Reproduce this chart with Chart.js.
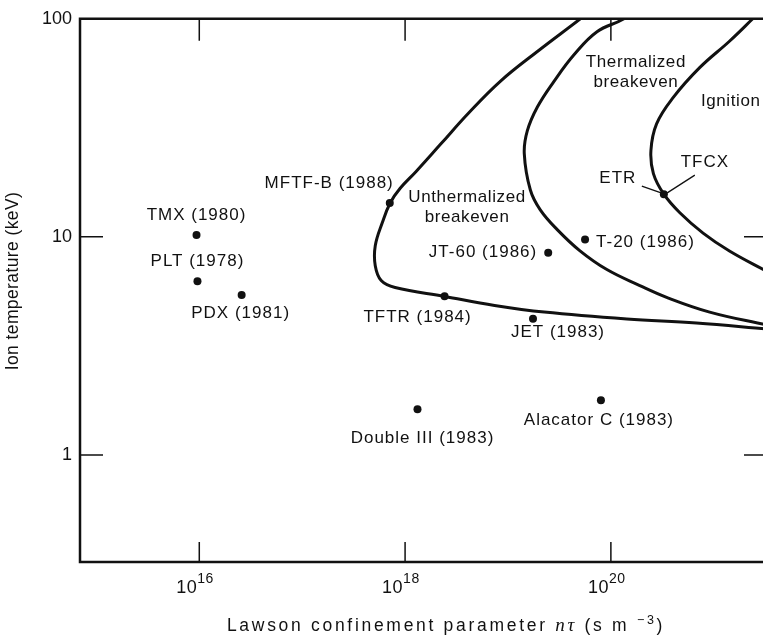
<!DOCTYPE html>
<html>
<head>
<meta charset="utf-8">
<title>Lawson diagram</title>
<script src="https://cdn.jsdelivr.net/npm/chart.js@4.4.1/dist/chart.umd.min.js"></script>
<style>
  html, body { margin: 0; padding: 0; background: #fff; overflow: hidden; }
  #wrap { width: 771px; height: 635px; }
</style>
</head>
<body>
<div id="wrap"><canvas id="lawson-chart" width="771" height="635"></canvas></div>
<script>
/* experiments: n*tau (s m^-3) and ion temperature (keV) */
const deviceNames = ['TMX (1980)', 'PLT (1978)', 'PDX (1981)', 'MFTF-B (1988)', 'TFTR (1984)',
                     'JT-60 (1986)', 'JET (1983)', 'T-20 (1986)', 'Double III (1983)', 'Alacator C (1983)'];
const deviceNt   = [9.4e15, 9.6e15, 2.58e16, 7.1e17, 2.42e18, 2.46e19, 1.75e19, 5.61e19, 1.32e18, 8.0e19];
const deviceTemp = [10.2, 6.26, 5.42, 14.3, 5.34, 8.46, 4.21, 9.72, 1.62, 1.78];

/* ETR and TFCX share one design point on the ignition curve */
const designNames = ['ETR', 'TFCX'];
const designNt = [3.27e20];
const designTemp = [15.7];

/* breakeven and ignition boundaries */
const unthermNt   = [7.48e19, 5.05e19, 1.93e19, 8.47e18, 4.06e18, 2.23e18, 1.28e18, 8.96e17, 7.16e17, 6.00e17,
                     5.13e17, 5.13e17, 5.86e17, 8.00e17, 2.43e18, 7.41e18, 2.25e19, 1.43e20, 6.78e20, 3.29e21];
const unthermTemp = [115.9, 100, 70.8, 51.8, 36.6, 26.7, 19.95, 16.7, 14.3, 11.6,
                     9.10, 7.38, 6.31, 5.86, 5.33, 4.85, 4.52, 4.20, 4.03, 3.78];

const thermNt   = [2.00e20, 1.34e20, 7.33e19, 4.40e19, 2.81e19, 1.93e19, 1.54e19, 1.44e19, 1.65e19, 2.06e19,
                   3.01e19, 5.01e19, 9.14e19, 1.91e20, 3.48e20, 9.12e20, 3.29e21];
const thermTemp = [115.9, 100, 87.3, 68.6, 51.8, 39.4, 30.6, 24.1, 16.4, 13.3,
                   10.8, 8.63, 7.08, 5.98, 5.28, 4.52, 3.94];

const ignitionNt   = [3.29e21, 2.39e21, 1.42e21, 7.29e20, 4.04e20, 2.78e20, 2.45e20, 2.59e20, 3.27e20, 4.68e20,
                      7.87e20, 1.42e21, 3.29e21];
const ignitionTemp = [115.9, 100, 78.9, 59.7, 43.6, 33.0, 24.9, 19.5, 15.7, 12.9,
                      10.4, 8.61, 6.93];

const curveNames = [['Unthermalized', 'breakeven'], ['Thermalized', 'breakeven'], ['Ignition']];

/* axes */
const xMin = 6.93e14, xMax = 3.29e21;
const yMin = 0.3229, yMax = 100;
const xTickExponents = [16, 18, 20];
const yTickValues = [1, 10, 100];

const ink = '#111';
const family = '"Liberation Sans", Arial, Helvetica, sans-serif';

// where each device name sits relative to its dot: [dx, dy, align]
const labelPlacement = {
    'TMX (1980)': [0, -20, 'center'],
    'PLT (1978)': [0, -20, 'center'],
    'PDX (1981)': [-1, 18, 'center'],
    'MFTF-B (1988)': [4, -20, 'right'],
    'TFTR (1984)': [-27, 21, 'center'],
    'JT-60 (1986)': [-11, 0, 'right'],
    'JET (1983)': [25, 14, 'center'],
    'T-20 (1986)': [11, 3, 'left'],
    'Double III (1983)': [5, 29, 'center'],
    'Alacator C (1983)': [-2, 20, 'center']
};

// curve captions, anchored in data space
const curveLabelAnchors = [
    {x: 4.0e18, y: 13.7, align: 'center'},
    {x: 1.75e20, y: 57.0, align: 'center'},
    {x: 7.5e20, y: 42.0, align: 'left'}
];

function toPoints(xs, ys) {
    return xs.map((v, i) => ({x: v, y: ys[i]}));
}

function text(ctx, str, x, y, size, align, spacing) {
    ctx.font = size + 'px ' + family;
    ctx.letterSpacing = (spacing || 0) + 'px';
    ctx.textAlign = align || 'center';
    ctx.textBaseline = 'middle';
    ctx.fillText(str, x, y);
}

/* frame, inward ticks, annotations */
const decorations = {
    id: 'decorations',
    afterDatasetsDraw(chart) {
        const ctx = chart.ctx;
        const xs = chart.scales.x, ys = chart.scales.y;
        const {left, top, right, bottom} = chart.chartArea;

        ctx.save();
        ctx.strokeStyle = ink;
        ctx.fillStyle = ink;

        // frame (open on the right)
        ctx.lineWidth = 2.5;
        ctx.beginPath();
        ctx.moveTo(right + 2, top);
        ctx.lineTo(left, top);
        ctx.lineTo(left, bottom);
        ctx.lineTo(right + 2, bottom);
        ctx.stroke();

        // tick marks pointing inward
        ctx.lineWidth = 1.5;
        ctx.beginPath();
        xTickExponents.forEach(e => {
            const px = xs.getPixelForValue(Math.pow(10, e));
            ctx.moveTo(px, bottom); ctx.lineTo(px, bottom - 20);
            ctx.moveTo(px, top); ctx.lineTo(px, top + 22);
        });
        yTickValues.slice(0, 2).forEach(v => {
            const py = ys.getPixelForValue(v);
            ctx.moveTo(left, py); ctx.lineTo(left + 23, py);
            ctx.moveTo(right, py); ctx.lineTo(right - 23, py);
        });
        ctx.stroke();

        // x tick labels as powers of ten
        xTickExponents.forEach(e => {
            const px = xs.getPixelForValue(Math.pow(10, e));
            ctx.textBaseline = 'alphabetic';
            ctx.textAlign = 'left';
            ctx.letterSpacing = '0.5px';
            ctx.font = '18px ' + family;
            ctx.fillText('10', px - 23, 593);
            const w = ctx.measureText('10').width;
            ctx.font = '14px ' + family;
            ctx.fillText(String(e), px - 23 + w, 583);
        });

        // x axis title
        const parts = [
            {s: 'Lawson confinement parameter ', font: '17.5px ' + family, dy: 0},
            {s: 'nτ', font: 'italic 19px "Liberation Serif", serif', dy: 0},
            {s: ' (s m ', font: '17.5px ' + family, dy: 0},
            {s: '−3', font: '12.5px ' + family, dy: -7},
            {s: ')', font: '17.5px ' + family, dy: 0}
        ];
        ctx.letterSpacing = '2.7px';
        let total = 0;
        parts.forEach(p => { ctx.font = p.font; p.w = ctx.measureText(p.s).width; total += p.w; });
        let cx = 446 - total / 2;
        ctx.textAlign = 'left';
        ctx.textBaseline = 'alphabetic';
        parts.forEach(p => {
            ctx.font = p.font;
            ctx.fillText(p.s, cx, 631 + p.dy);
            cx += p.w;
        });

        // y axis title
        ctx.save();
        ctx.translate(13, 281);
        ctx.rotate(-Math.PI / 2);
        text(ctx, 'Ion temperature (keV)', 0, 0, 17.5, 'center', 0.4);
        ctx.restore();

        // device names
        deviceNames.forEach((name, i) => {
            const px = xs.getPixelForValue(deviceNt[i]);
            const py = ys.getPixelForValue(deviceTemp[i]);
            const [dx, dy, align] = labelPlacement[name];
            text(ctx, name, px + dx, py + dy, 17, align, 1);
        });

        // ETR / TFCX with leader lines
        const ex = xs.getPixelForValue(designNt[0]);
        const ey = ys.getPixelForValue(designTemp[0]);
        ctx.lineWidth = 1.3;
        ctx.beginPath();
        ctx.moveTo(ex - 22, ey - 8); ctx.lineTo(ex - 2, ey - 1);
        ctx.moveTo(ex + 31, ey - 19); ctx.lineTo(ex + 3, ey - 1);
        ctx.stroke();
        text(ctx, designNames[0], ex - 46, ey - 16, 17, 'center', 1);
        text(ctx, designNames[1], ex + 41, ey - 32, 17, 'center', 1);

        // curve captions
        curveNames.forEach((lines, i) => {
            const a = curveLabelAnchors[i];
            const px = xs.getPixelForValue(a.x);
            const py = ys.getPixelForValue(a.y);
            lines.forEach((ln, k) => {
                const off = (k - (lines.length - 1) / 2) * 20;
                text(ctx, ln, px, py + off, 17, a.align, 0.6);
            });
        });

        ctx.restore();
    }
};

const curveStyle = {
    showLine: true,
    borderColor: ink,
    borderWidth: 3,
    pointRadius: 0,
    tension: 0.4,
    fill: false,
    clip: 0
};

new Chart(document.getElementById('lawson-chart'), {
    type: 'scatter',
    data: {
        datasets: [
            Object.assign({data: toPoints(unthermNt, unthermTemp)}, curveStyle),
            Object.assign({data: toPoints(thermNt, thermTemp)}, curveStyle),
            Object.assign({data: toPoints(ignitionNt, ignitionTemp)}, curveStyle),
            {
                data: toPoints(deviceNt.concat(designNt), deviceTemp.concat(designTemp)),
                pointRadius: 4,
                pointBackgroundColor: ink,
                pointBorderWidth: 0
            }
        ]
    },
    options: {
        responsive: false,
        animation: false,
        devicePixelRatio: 1,
        layout: { padding: { top: 14, right: 0, left: 0, bottom: 0 } },
        scales: {
            x: {
                type: 'logarithmic',
                min: xMin,
                max: xMax,
                bounds: 'data',
                afterFit: s => { s.height = 73; },
                grid: { display: false, drawTicks: false },
                border: { display: false },
                ticks: { display: false }
            },
            y: {
                type: 'logarithmic',
                min: yMin,
                max: yMax,
                bounds: 'data',
                afterBuildTicks: s => { s.ticks = yTickValues.map(v => ({value: v})); },
                afterFit: s => { s.width = 80; },
                grid: { display: false, drawTicks: false },
                border: { display: false },
                ticks: {
                    color: ink,
                    padding: 8,
                    font: { family: family, size: 18 },
                    callback: v => String(v)
                }
            }
        },
        plugins: {
            legend: { display: false },
            tooltip: { enabled: false }
        }
    },
    plugins: [decorations]
});
</script>
</body>
</html>
